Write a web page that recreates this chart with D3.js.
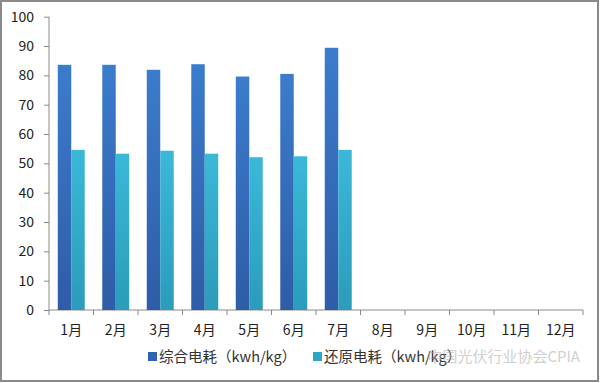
<!DOCTYPE html>
<html><head><meta charset="utf-8">
<script src="https://cdn.jsdelivr.net/npm/d3@7"></script>
<style>body{margin:0;background:#fff}svg{display:block}</style>
</head><body>
<svg id="c" width="600" height="383"></svg>
<script>
const months = ["1月","2月","3月","4月","5月","6月","7月","8月","9月","10月","11月","12月"];
const seriesNames = ["综合电耗（kwh/kg）","还原电耗（kwh/kg）"];
const total = [83.6, 83.6, 81.9, 83.8, 79.6, 80.5, 89.4, null, null, null, null, null];
const reduction = [54.6, 53.3, 54.3, 53.3, 52.1, 52.4, 54.6, null, null, null, null, null];
const yTicks = [0,10,20,30,40,50,60,70,80,90,100];

const svg = d3.select("#c");
const font = "'Noto Sans CJK SC','DejaVu Sans',sans-serif";
const defs = svg.append("defs");
const g1 = defs.append("linearGradient").attr("id","gd").attr("x1",0).attr("y1",0).attr("x2",0).attr("y2",1);
g1.append("stop").attr("offset","0%").attr("stop-color","#3b7ccc");
g1.append("stop").attr("offset","100%").attr("stop-color","#2f5ca6");
const g2 = defs.append("linearGradient").attr("id","gl").attr("x1",0).attr("y1",0).attr("x2",0).attr("y2",1);
g2.append("stop").attr("offset","0%").attr("stop-color","#3bb8d8");
g2.append("stop").attr("offset","100%").attr("stop-color","#2b9cba");

svg.append("rect").attr("x",1).attr("y",1).attr("width",597).attr("height",380)
  .attr("fill","#fff").attr("stroke","#8a8a8a").attr("stroke-width",2);

const x = d3.scaleBand().domain(months).range([49,583]);
const y = d3.scaleLinear().domain([0,100]).range([310,16.7]);
const x1 = d3.scaleBand().domain([0,1]).range([0,x.bandwidth()]).paddingOuter(0.65).paddingInner(0);

const yAxis = svg.append("g").attr("transform","translate(49,0)")
  .call(d3.axisLeft(y).tickValues(yTicks).tickSize(5).tickPadding(10));
const xAxis = svg.append("g").attr("transform","translate(0,310)")
  .call(d3.axisBottom(x).tickSize(5).tickPadding(10));
xAxis.selectAll(".tick line").attr("x1",-x.bandwidth()/2).attr("x2",-x.bandwidth()/2);
xAxis.append("line").attr("x1",583).attr("x2",583).attr("y1",0).attr("y2",5).attr("stroke","#8a8a8a");
[yAxis,xAxis].forEach(a=>{
  a.selectAll("path,line").attr("stroke","#8a8a8a");
  a.selectAll("text").attr("fill","#222").style("font-family",font).style("font-size","14px");
  a.select(".domain").attr("d", a===yAxis ? "M0,310V16.7" : "M49,0H583");
});

const data = months.map((m,i)=>({m, v:[total[i], reduction[i]]}));
const fills = ["url(#gd)","url(#gl)"];
svg.append("g").selectAll("g").data(data).join("g")
  .attr("transform",d=>`translate(${x(d.m)},0)`)
  .selectAll("rect").data(d=>d.v.map((v,k)=>({v,k})).filter(e=>e.v!=null)).join("rect")
  .attr("x",e=>x1(e.k)).attr("width",x1.bandwidth())
  .attr("y",e=>y(e.v)).attr("height",e=>y(0)-y(e.v))
  .attr("fill",e=>fills[e.k]);

// legend
const legColors = ["#2f62b0","#2aa6c8"];
const legX = [148, 313];
const lg = svg.append("g");
seriesNames.forEach((n,i)=>{
  lg.append("rect").attr("x",legX[i]).attr("y",352).attr("width",9).attr("height",9).attr("fill",legColors[i]);
  lg.append("text").attr("x",legX[i]+11).attr("y",362).text(n)
    .style("font-family",font).style("font-size","14.5px").attr("fill","#333");
});
// watermark (present in the reference image)
svg.append("text").attr("x",580).attr("y",362).attr("text-anchor","end").text("中国光伏行业协会CPIA")
  .style("font-family",font).style("font-size","15px").attr("fill","#aaa").attr("opacity",0.55);
</script>
</body></html>
